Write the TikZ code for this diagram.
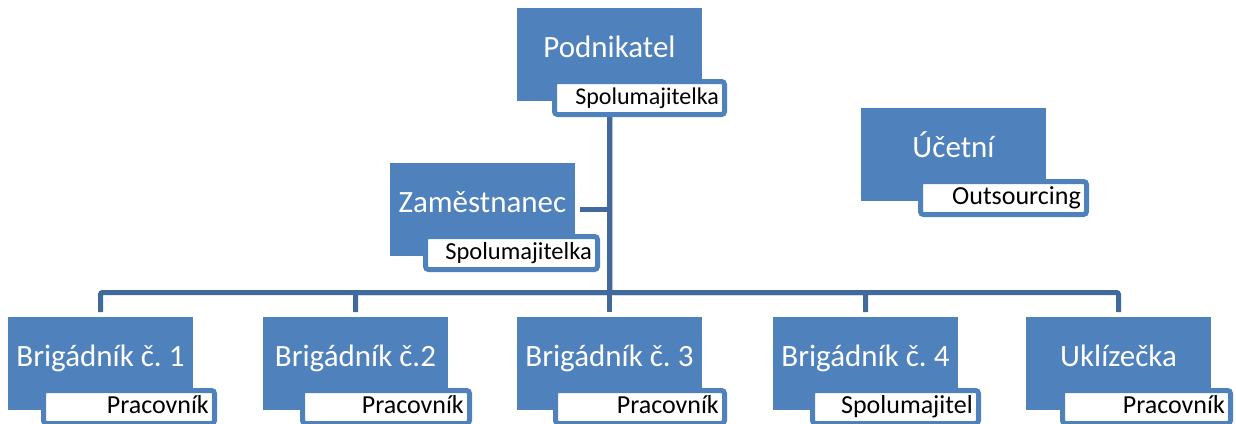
\documentclass[tikz,border=0pt]{standalone}
\usepackage{fontspec}
\setmainfont{Carlito}
\usetikzlibrary{calc,backgrounds}
\definecolor{boxblue}{HTML}{4F81BD}
\definecolor{lineblue}{HTML}{41699B}
\tikzset{
 bluebox/.style={fill=boxblue, draw=none, minimum width=185pt, minimum height=93pt, inner sep=0pt, outer sep=0pt},
 tagbox/.style={fill=white, draw=boxblue, line width=5pt, rounded corners=3pt, minimum height=33pt, inner sep=0pt, outer sep=0pt},
 maintext/.style={text=white, font=\fontsize{31}{37}\selectfont, inner sep=0pt},
 tagtext/.style={text=black, inner sep=0pt},
 conn/.style={draw=lineblue, line width=5pt, rounded corners=2pt},
}
% name, left x, top y, main text, tag text, tag offset, tag width, tag font size
\newcommand\orgunit[8]{%
  \node[bluebox, anchor=north west] (#1) at (#2,#3) {};
  \node[maintext, anchor=base] (#1-t) at (#2+92.5,#3+49) {#4};
  \node[tagbox, anchor=north west, minimum width=#7pt] (#1-l) at (#2+#6+2.5,#3+73.5) {};
  \node[tagtext, anchor=base east, font=\fontsize{#8}{#8}\selectfont] (#1-lt) at (#2+#6+#7+5-8,#3+96) {#5};
}
\begin{document}
\begin{tikzpicture}[x=1pt,y=-1pt]
\useasboundingbox (0,0) rectangle (1236,423);
\orgunit{pod}{517}{8}{Podnikatel}{Spolumajitelka}{35}{170}{24}
\orgunit{zam}{390}{163}{Zaměstnanec}{Spolumajitelka}{33}{172}{24.5}
\orgunit{uce}{861}{108}{Účetní}{Outsourcing}{57}{166}{26}
\orgunit{b1}{8}{317}{Brigádník č.~1}{Pracovník}{33}{171}{26}
\orgunit{b2}{263}{317}{Brigádník č.2}{Pracovník}{37}{167}{26}
\orgunit{b3}{517}{317}{Brigádník č.~3}{Pracovník}{36}{169}{26}
\orgunit{b4}{773}{317}{Brigádník č.~4}{Spolumajitel}{37}{166}{26}
\orgunit{b5}{1026}{317}{Uklízečka}{Pracovník}{34}{168}{26}
\coordinate (bar) at (0,292.5);
\coordinate (top) at (pod.south |- pod-l.south);
\begin{scope}[on background layer]
\foreach \c in {b1,b2,b3,b4,b5}{
  \draw[conn] (top) -- (top |- bar) -| ($(\c.north)-(0,5)$);
}
\draw[conn] ($(zam.east)+(5,0)$) -- (top |- zam.east);
\end{scope}
\end{tikzpicture}
\end{document}
